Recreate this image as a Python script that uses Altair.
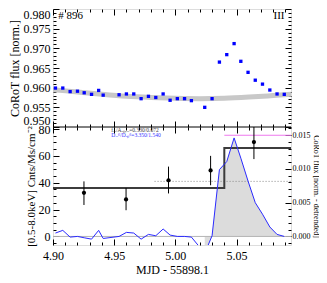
import altair as alt
import pandas as pd

FONT = "Liberation Serif"

# ---------------- data ----------------
t_top = [4.902, 4.908, 4.914, 4.920, 4.9255, 4.9315, 4.9373, 4.941, 4.954, 4.960,
         4.966, 4.972, 4.978, 4.984, 4.990, 4.9957, 5.0016, 5.0075, 5.0131, 5.024,
         5.030, 5.036, 5.042, 5.048, 5.0535, 5.0594, 5.0653, 5.0712, 5.0772, 5.0831, 5.089]
flux_top = [0.9599, 0.9599, 0.9590, 0.9591, 0.9587, 0.9583, 0.9593, 0.9581, 0.9582, 0.9584,
            0.9584, 0.9572, 0.9578, 0.9575, 0.9584, 0.9568, 0.9572, 0.9572, 0.9567, 0.9550,
            0.9572, 0.9665, 0.9684, 0.9712, 0.9667, 0.9639, 0.9619, 0.9609, 0.9594, 0.9584, 0.9583]
flux_det = [0.0005, 0.0009, -0.0001, 0.0000, -0.0002, -0.0004, 0.0009, -0.0003, 0.0000, 0.0006,
            0.0005, -0.0004, 0.0003, 0.0001, 0.0011, 0.0002, 0.0000, 0.0000, -0.0001, -0.0025,
            0.0001, 0.0099, 0.0111, 0.0146, 0.0116, 0.0082, 0.0050, 0.0033, 0.0014, 0.0003, 0.0000]
flare_first = 19  # index where the shaded flare starts

trend_t = [4.90, 4.92, 4.94, 4.96, 4.98, 5.00, 5.02, 5.04, 5.06, 5.08, 5.0945]
trend_f = [0.9595, 0.9589, 0.9583, 0.9578, 0.9575, 0.9573, 0.9572, 0.9573, 0.9576, 0.9580, 0.9583]

xr_t = [4.9253, 4.9597, 4.9944, 5.0288, 5.0642]
xr_rate = [32.5, 27.5, 41.8, 49.1, 70.3]
xr_lo = [23.4, 19.5, 32.0, 38.1, 57.6]
xr_hi = [41.0, 36.1, 52.0, 60.0, 81.5]

block_t = [4.90, 5.040, 5.0945]
block_rate = [36.1, 65.9, 65.9]
mean_t = [4.983, 5.0945]
mean_rate = [41.0, 41.0]
peak_t = [5.040, 5.0945]
peak_flux = [0.0150, 0.0150]

x_domain = [4.90, 5.0945]
top_domain = [0.950, 0.980]
cnt_domain = [-6.4, 81.5]
det_domain = [-0.00127, 0.01622]

x_major = [4.90, 4.95, 5.00, 5.05]
x_minor = [4.90, 4.91, 4.92, 4.93, 4.94, 4.95, 4.96, 4.97, 4.98, 4.99, 5.00,
           5.01, 5.02, 5.03, 5.04, 5.05, 5.06, 5.07, 5.08, 5.09]
top_major = [0.950, 0.955, 0.960, 0.965, 0.970, 0.975, 0.980]
top_minor = [0.950, 0.951, 0.952, 0.953, 0.954, 0.955, 0.956, 0.957, 0.958, 0.959, 0.960,
             0.961, 0.962, 0.963, 0.964, 0.965, 0.966, 0.967, 0.968, 0.969, 0.970,
             0.971, 0.972, 0.973, 0.974, 0.975, 0.976, 0.977, 0.978, 0.979, 0.980]
cnt_major = [0, 20, 40, 60, 80]
cnt_minor = [-5, 0, 5, 10, 15, 20, 25, 30, 35, 40, 45, 50, 55, 60, 65, 70, 75, 80]
det_major = [0.000, 0.005, 0.010, 0.015]
det_minor = [-0.001, 0.000, 0.001, 0.002, 0.003, 0.004, 0.005, 0.006, 0.007, 0.008,
             0.009, 0.010, 0.011, 0.012, 0.013, 0.014, 0.015, 0.016]

label_top = ["# 896"]
label_quadrant = ["III"]
annot_1 = ["f\u2093\u1d63/A\u2092\u209a,\u2093\u1d63=0.330/0.072"]
annot_2 = ["D\u2093\u1d63\u1da0\u02e1/D\u2092\u209a\u1da0\u02e1=3.350/1.540"]

# ---------------- helpers ----------------
TOP_RANGE = [{"expr": "height/2"}, 0]
BOT_RANGE = [{"expr": "height"}, {"expr": "height/2"}]


def ax_labels(orient, values, fmt, title, size=12, tsize=12, lpad=3, tpad=2, flush=False):
    return alt.Axis(orient=orient, values=values, format=fmt, title=title,
                    ticks=False, tickSize=0, domain=False, grid=False, labelFlush=flush,
                    labelFont=FONT, titleFont=FONT, labelFontSize=size, titleFontSize=tsize,
                    labelColor="black", titleColor="black", titleFontWeight="normal",
                    labelPadding=lpad, titlePadding=tpad, minExtent=0, labelOverlap=False)


def ax_ticks(orient, offset_expr, values, majors, big=6, small=3):
    return alt.Axis(orient=orient, offset={"expr": offset_expr}, values=values, labels=False,
                    domain=False, grid=False, title=None, ticks=True,
                    tickColor="black", tickWidth=1, minExtent=0,
                    tickSize={"condition": {"test": f"indexof({majors}, datum.value) >= 0",
                                            "value": big}, "value": small})


def xs(axis):
    return alt.X("t:Q", scale=alt.Scale(domain=x_domain, nice=False, zero=False), axis=axis)


def ys(field, domain, rng, axis):
    return alt.Y(f"{field}:Q", scale=alt.Scale(domain=domain, range=rng, nice=False, zero=False),
                 axis=axis)


def y_top(field, axis=None):
    return ys(field, top_domain, TOP_RANGE, axis)


def y_cnt(field, axis=None):
    return ys(field, cnt_domain, BOT_RANGE, axis)


def y_det(field, axis=None):
    return ys(field, det_domain, BOT_RANGE, axis)

# ---------------- frames ----------------
df_top = pd.DataFrame({"t": t_top, "f": flux_top})
df_trend = pd.DataFrame({"t": trend_t, "f": trend_f})
df_det = pd.DataFrame({"t": t_top, "f": flux_det})
df_flare = df_det.iloc[flare_first:].reset_index(drop=True)
df_xr = pd.DataFrame({"t": xr_t, "r": xr_rate, "lo": xr_lo, "hi": xr_hi})
df_block = pd.DataFrame({"t": block_t, "r": block_rate})
df_mean = pd.DataFrame({"t": mean_t, "r": mean_rate})
df_peak = pd.DataFrame({"t": peak_t, "f": peak_flux})

# ---------------- bottom panel (flux, right axis) ----------------
area = alt.Chart(df_flare).mark_area(color="#dcdcdc", opacity=1, clip=True).encode(
    x=xs(None),
    y=y_det("f", ax_labels("right", det_major, ".3f", "CoRoT flux [norm. - detrended]",
                           size=8, tsize=8, lpad=1, tpad=1)),
    y2=alt.Y2(datum=0),
)
zero = alt.Chart(pd.DataFrame({"f": [0.0]})).mark_rule(color="#b4b4b4", strokeWidth=1).encode(
    y=y_det("f"))
peak = alt.Chart(df_peak).mark_line(color="#ee78ee", strokeWidth=1.2, clip=True).encode(
    x=xs(None), y=y_det("f"))
dline = alt.Chart(df_det).mark_line(color="#2a2aff", strokeWidth=1, clip=True).encode(
    x=xs(None), y=y_det("f", ax_ticks("left", "-width", det_minor, det_major)))

# ---------------- bottom panel (X-ray counts, left axis) ----------------
dotted = alt.Chart(df_mean).mark_line(
    color="#888888", strokeWidth=1, strokeDash=[1, 2], clip=True).encode(x=xs(None), y=y_cnt("r"))
step = alt.Chart(df_block).mark_line(color="#3c3c3c", strokeWidth=2, interpolate="step-after",
                                     clip=True).encode(
    x=xs(ax_labels("bottom", x_major, ".2f", "MJD - 55898.1", lpad=5, tpad=3)),
    y=y_cnt("r", ax_labels("left", cnt_major, "d", "[0.5-8.0keV] Cnts/Ms/cm\u207b\u00b2",
                           tsize=11)),
)
err = alt.Chart(df_xr).mark_rule(color="black", strokeWidth=1, clip=True).encode(
    x=xs(ax_ticks("top", "-height", x_minor, x_major)),
    y=y_cnt("lo", ax_ticks("right", "-width", cnt_minor, cnt_major)),
    y2="hi:Q",
)
dots = alt.Chart(df_xr).mark_circle(color="black", size=18, opacity=1, clip=True).encode(
    x=xs(ax_ticks("bottom", "-height/2", x_minor, x_major)),
    y=y_cnt("r"),
)
ann1 = alt.Chart(pd.DataFrame({"t": [4.9476], "r": [79.3], "s": annot_1})).mark_text(
    align="left", baseline="middle", font=FONT, fontSize=5.5, color="#444444").encode(
    x=xs(None), y=y_cnt("r"), text="s:N")
ann2 = alt.Chart(pd.DataFrame({"t": [4.9476], "r": [75.2], "s": annot_2})).mark_text(
    align="left", baseline="middle", font=FONT, fontSize=5.5, color="#3333ff").encode(
    x=xs(None), y=y_cnt("r"), text="s:N")

# ---------------- top panel ----------------
band = alt.Chart(df_trend).mark_line(color="#c8c8c8", strokeWidth=5, interpolate="monotone",
                                     clip=True, strokeCap="butt").encode(
    x=xs(ax_ticks("top", "-height/2", x_minor, x_major)),
    y=y_top("f", ax_labels("left", top_major, ".3f", "CoRoT flux [norm.]", flush=True)),
)
pts = alt.Chart(df_top).mark_square(color="#0000ff", size=11, opacity=1, clip=True).encode(
    x=xs(ax_ticks("bottom", "-height", x_minor, x_major)),
    y=y_top("f", ax_ticks("right", "-width", top_minor, top_major)),
)
txt1 = alt.Chart(pd.DataFrame({"t": [4.9043], "f": [0.97825], "s": label_top})).mark_text(
    align="left", baseline="middle", font=FONT, fontSize=11, color="black").encode(
    x=xs(None), y=y_top("f", ax_ticks("left", "-width", top_minor, top_major)), text="s:N")
txt2 = alt.Chart(pd.DataFrame({"t": [5.0847], "f": [0.97825], "s": label_quadrant})).mark_text(
    align="center", baseline="middle", font=FONT, fontSize=11, color="black").encode(
    x=xs(None), y=y_top("f"), text="s:N")
sep = alt.Chart(pd.DataFrame({"f": [top_domain[0]]})).mark_rule(color="black", strokeWidth=1).encode(
    y=y_top("f"))

chart = alt.layer(
    area, zero, dotted, step, peak, dline, err, dots, ann1, ann2,
    band, pts, txt1, txt2, sep,
).resolve_scale(y="independent").resolve_axis(x="independent", y="independent").properties(
    width=311, height=267,
    autosize=alt.AutoSizeParams(type="fit", contains="padding"),
    padding=0,
).configure_view(stroke="black", strokeWidth=1).configure(background="white")

chart.save("out.html", embed_options={"renderer": "svg", "actions": False})
